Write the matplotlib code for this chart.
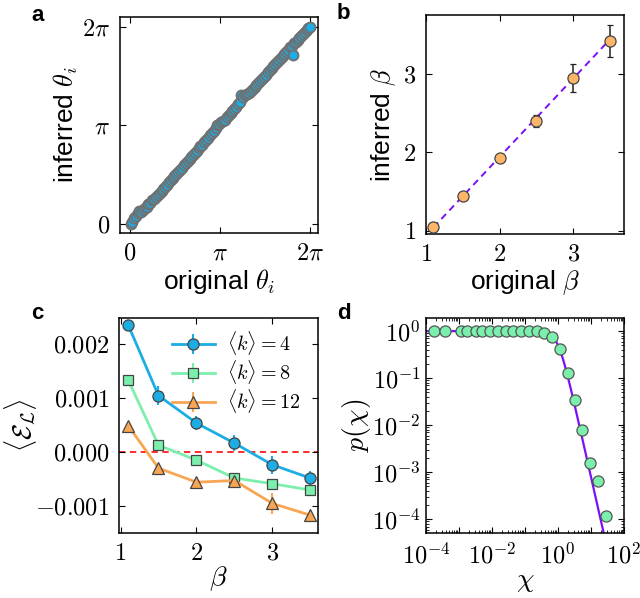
import numpy as np
import matplotlib
matplotlib.use("Agg")
import matplotlib.pyplot as plt
from matplotlib.ticker import FixedLocator, NullFormatter

plt.rcParams['mathtext.fontset'] = 'cm'
plt.rcParams['font.family'] = ['Liberation Sans', 'DejaVu Sans']

# ---------------- data ----------------
# panel a: original vs inferred angles
theta_orig = [0.02, 0.08, 0.15, 0.21, 0.27, 0.33, 0.38, 0.45, 0.52, 0.58,
              0.63, 0.70, 0.77, 0.83, 0.90, 0.96, 1.03, 1.10, 1.16, 1.22,
              1.29, 1.35, 1.42, 1.49, 1.55, 1.61, 1.68, 1.75, 1.81, 1.88,
              1.94, 2.01, 2.08, 2.14, 2.20, 2.27, 2.34, 2.40, 2.46, 2.53,
              2.60, 2.66, 2.72, 2.79, 2.86, 2.92, 2.99, 3.05, 3.11, 3.18,
              3.25, 3.31, 3.37, 3.44, 3.51, 3.57, 3.63, 3.70, 3.77, 3.83,
              3.89, 3.96, 4.03, 4.09, 4.15, 4.22, 4.29, 4.35, 4.41, 4.48,
              4.55, 4.61, 4.67, 4.74, 4.81, 4.87, 4.94, 5.00, 5.07, 5.13,
              5.20, 5.26, 5.33, 5.39, 5.46, 5.52, 5.59, 5.65, 5.69, 5.72,
              5.78, 5.85, 5.91, 5.98, 6.04, 6.11, 6.17, 6.23, 6.28]
theta_inf = [0.00, 0.06, 0.20, 0.26, 0.36, 0.40, 0.37, 0.43, 0.50, 0.55,
             0.62, 0.68, 0.76, 0.80, 0.86, 0.93, 1.00, 1.06, 1.12, 1.18,
             1.24, 1.33, 1.40, 1.47, 1.52, 1.60, 1.66, 1.72, 1.80, 1.88,
             1.95, 2.02, 2.06, 2.12, 2.19, 2.27, 2.33, 2.42, 2.48, 2.53,
             2.62, 2.68, 2.74, 2.84, 2.90, 2.98, 3.07, 3.15, 3.20, 3.24,
             3.28, 3.33, 3.40, 3.47, 3.55, 3.60, 3.66, 3.74, 3.83, 3.90,
             4.12, 4.05, 4.10, 4.16, 4.18, 4.23, 4.30, 4.36, 4.43, 4.51,
             4.57, 4.64, 4.70, 4.76, 4.84, 4.92, 4.98, 5.03, 5.09, 5.16,
             5.24, 5.29, 5.36, 5.43, 5.50, 5.56, 5.63, 5.67, 5.39, 5.76,
             5.81, 5.88, 5.92, 6.00, 6.06, 6.13, 6.19, 6.24, 6.27]

# panel b: original vs inferred beta
beta_orig = [1.1, 1.5, 2.0, 2.5, 3.0, 3.5]
beta_inf = [1.04, 1.44, 1.93, 2.40, 2.95, 3.42]
beta_err = [0.02, 0.03, 0.03, 0.08, 0.18, 0.20]
fit_slope, fit_intercept = 1.0, -0.06

# panel c: <E_L> vs beta
beta_c = [1.1, 1.5, 2.0, 2.5, 3.0, 3.5]
E_k4 = [0.002365, 0.00105, 0.00054, 0.000167, -0.000235, -0.000482]
E_k4_err = [0.00005, 0.00018, 0.00013, 0.00015, 0.00017, 0.00014]
E_k8 = [0.00134, 0.00013, -0.000148, -0.00048, -0.000585, -0.000703]
E_k8_err = [0.00004, 0.00005, 0.00006, 0.0001, 0.00007, 0.0001]
E_k12 = [0.000495, -0.000297, -0.000557, -0.000526, -0.000952, -0.00117]
E_k12_err = [0.00004, 0.00005, 0.00006, 0.00008, 0.0002, 0.0001]
legend_labels = [r'$\langle k\rangle=4$', r'$\langle k\rangle=8$', r'$\langle k\rangle=12$']

# panel d: connection probability
chi = [10**v for v in [-3.77, -3.41, -2.95, -2.75, -2.49, -2.29, -2.06, -1.83,
                       -1.59, -1.37, -1.13, -0.88, -0.65, -0.43, -0.17, 0.06,
                       0.31, 0.51, 0.74, 0.98, 1.22, 1.46]]
p_chi = [1.0, 1.0, 1.0, 1.0, 1.0, 1.0, 1.0, 1.0, 1.0, 1.0, 1.0, 1.0, 1.0,
         0.93, 0.76, 0.41, 0.13, 0.034, 0.0078, 0.0016, 0.00065, 0.000117]
beta_fit_d = 3.1

# ---------------- style ----------------
BLUE = '#1cade4'
GREEN = '#7bf0ad'
ORANGE = '#f8a653'
ORANGE_B = '#fdb56a'
PURPLE = '#7a10f5'
EDGE = '#444444'
TICK_FS = 17.5
LAB_FS = 19

fig = plt.figure(figsize=(6.4, 5.98), dpi=100)

def style(ax):
    ax.tick_params(which='both', direction='in', top=True, right=True,
                   labelsize=TICK_FS, pad=7)
    ax.tick_params(which='major', length=4.5, width=0.8)
    ax.tick_params(which='minor', length=2.5, width=0.6)
    for s in ax.spines.values():
        s.set_linewidth(1.1)

def panel_label(x, y, t):
    fig.text(x / 640, 1 - y / 598, t, fontsize=16, fontweight='bold',
             ha='left', va='top', family='Liberation Sans')

# ---- panel a ----
axa = fig.add_axes([120/640, 1-233/598, 198/640, 216/598])
axa.scatter(theta_orig, theta_inf, s=52, c=BLUE, edgecolors='#707070',
            linewidths=1.3, zorder=3)
axa.set_xlim(-0.35, 2*np.pi + 0.28)
axa.set_ylim(-0.29, 2*np.pi + 0.32)
axa.set_xticks([0, np.pi, 2*np.pi])
axa.set_xticklabels([r'$0$', r'$\pi$', r'$2\pi$'])
axa.set_yticks([0, np.pi, 2*np.pi])
axa.set_yticklabels([r'$0$', r'$\pi$', r'$2\pi$'])
style(axa)
axa.set_xlabel(r'original $\theta_i$', fontsize=LAB_FS, labelpad=1.5)
axa.set_ylabel(r'inferred $\theta_i$', fontsize=LAB_FS, labelpad=2)
panel_label(31, 5, 'a')

# ---- panel b ----
axb = fig.add_axes([426/640, 1-234/598, 198/640, 219/598])
xs = np.array([beta_orig[0], beta_orig[-1]])
axb.plot(xs, fit_slope * xs + fit_intercept, ls=(0, (3.5, 2.5)), color=PURPLE,
         lw=1.4, zorder=2)
axb.errorbar(beta_orig, beta_inf, yerr=beta_err, fmt='o', ms=8,
             mfc=ORANGE_B, mec=EDGE, mew=0.9, ecolor='#222222', elinewidth=1.1,
             capsize=2.5, capthick=1.0, zorder=3)
axb.set_xlim(1.0, 3.69)
axb.set_ylim(0.957, 3.75)
axb.set_xticks([1, 2, 3])
axb.set_xticklabels([r'$1$', r'$2$', r'$3$'])
axb.set_yticks([1, 2, 3])
axb.set_yticklabels([r'$1$', r'$2$', r'$3$'])
style(axb)
axb.set_xlabel(r'original $\beta$', fontsize=LAB_FS, labelpad=1.5)
axb.set_ylabel(r'inferred $\beta$', fontsize=LAB_FS, labelpad=4)
panel_label(337, 3, 'b')

# ---- panel c ----
axc = fig.add_axes([119/640, 1-533/598, 199/640, 215/598])
axc.axhline(0, color='#ff1a1a', ls=(0, (3.5, 2.5)), lw=1.3, zorder=1)
series = [(E_k4, E_k4_err, BLUE, 'o', 8), (E_k8, E_k8_err, GREEN, 's', 7.5),
          (E_k12, E_k12_err, ORANGE, '^', 8)]
for (vals, errs, col, mk, ms), lab in zip(series, legend_labels):
    axc.errorbar(beta_c, vals, yerr=errs, fmt='-' + mk, color=col, lw=2.0,
                 ms=ms, mfc=col, mec=EDGE, mew=0.9, ecolor=col,
                 elinewidth=1.5, capsize=0, label=lab, zorder=3)
axc.set_xlim(0.98, 3.6)
axc.set_ylim(-0.0015, 0.00249)
axc.set_xticks([1, 2, 3])
axc.set_xticklabels([r'$1$', r'$2$', r'$3$'])
axc.set_yticks([-0.001, 0.0, 0.001, 0.002])
axc.set_yticklabels([r'$-0.001$', r'$0.000$', r'$0.001$', r'$0.002$'])
style(axc)
leg = axc.legend(loc='upper right', frameon=False, fontsize=14.5,
                 handlelength=2.1, handletextpad=0.6, labelspacing=0.05,
                 borderaxespad=0.0, bbox_to_anchor=(0.95, 0.985))
axc.set_xlabel(r'$\beta$', fontsize=LAB_FS + 1, labelpad=0)
axc.set_ylabel(r'$\langle \mathcal{E}_{\mathcal{L}} \rangle$', fontsize=LAB_FS,
               labelpad=-3)
panel_label(31, 303, 'c')

# ---- panel d ----
axd = fig.add_axes([426/640, 1-533/598, 198/640, 215/598])
axd.set_xscale('log')
axd.set_yscale('log')
xx = np.logspace(-4, 2, 400)
axd.plot(xx, 1.0 / (1.0 + xx**beta_fit_d), color=PURPLE, lw=1.6, zorder=2)
axd.plot(chi, p_chi, 'o', ms=8, mfc=GREEN, mec='#555555', mew=0.9, zorder=3)
axd.set_xlim(1e-4, 1e2)
axd.set_ylim(5.1e-5, 1.9)
axd.xaxis.set_major_locator(FixedLocator([1e-4, 1e-3, 1e-2, 1e-1, 1e0, 1e1, 1e2]))
axd.set_xticklabels([r'$10^{-4}$', '', r'$10^{-2}$', '', r'$10^{0}$', '', r'$10^{2}$'])
axd.yaxis.set_major_locator(FixedLocator([1e-4, 1e-3, 1e-2, 1e-1, 1e0]))
axd.set_yticklabels([r'$10^{-4}$', r'$10^{-3}$', r'$10^{-2}$', r'$10^{-1}$', r'$10^{0}$'])
minor = [m * 10.0**e for e in range(-5, 3) for m in range(2, 10)]
axd.xaxis.set_minor_locator(FixedLocator(minor))
axd.yaxis.set_minor_locator(FixedLocator(minor))
axd.xaxis.set_minor_formatter(NullFormatter())
axd.yaxis.set_minor_formatter(NullFormatter())
style(axd)
axd.tick_params(axis='y', pad=4)
axd.set_xlabel(r'$\chi$', fontsize=LAB_FS + 1, labelpad=0)
axd.set_ylabel(r'$p(\chi)$', fontsize=LAB_FS + 1, labelpad=-1)
panel_label(337, 303, 'd')

fig.savefig('out.png', dpi=100)
